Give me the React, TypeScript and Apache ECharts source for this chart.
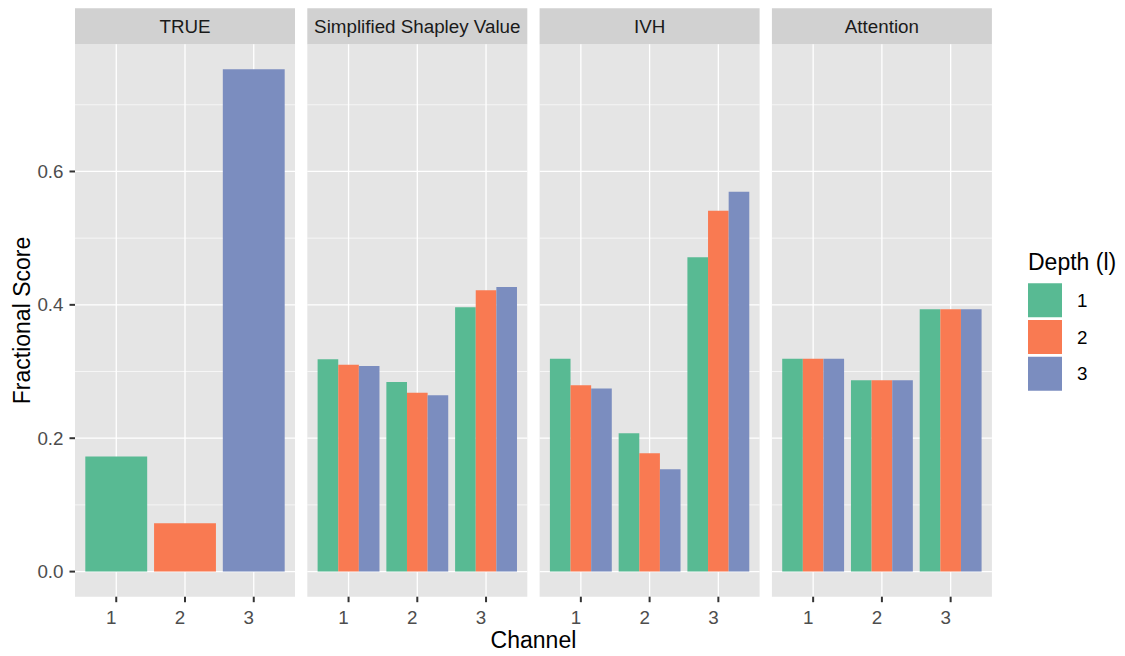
import React, { useEffect, useRef } from "react";
import * as echarts from "echarts";

// ---- data ----
const panels = ["TRUE", "Simplified Shapley Value", "IVH", "Attention"];
const channels = [1, 2, 3];
const depths = ["1", "2", "3"];
// TRUE panel: one bar per channel (depth == channel)
const trueScores = [0.1724, 0.0726, 0.7532];
// Simplified Shapley Value, per depth, channels 1..3
const shapleyD1 = [0.3184, 0.2844, 0.3964];
const shapleyD2 = [0.31, 0.268, 0.4219];
const shapleyD3 = [0.3084, 0.2645, 0.4268];
// IVH
const ivhD1 = [0.319, 0.2075, 0.4714];
const ivhD2 = [0.2795, 0.1775, 0.5412];
const ivhD3 = [0.2744, 0.1535, 0.5697];
// Attention
const attD1 = [0.319, 0.287, 0.3934];
const attD2 = [0.319, 0.287, 0.3934];
const attD3 = [0.319, 0.287, 0.3934];

const yMajor = [0, 0.2, 0.4, 0.6];
const yMinor = [0.1, 0.3, 0.5, 0.7];

// ---- styling / layout ----
const FONT = '"Liberation Sans", Arial, Helvetica, sans-serif';
const SMALL = 18.8;
const colors = ["#58BA93", "#F97A52", "#7B8DBF"];
const PANEL_LEFT = [75, 307.3, 539.6, 771.9];
const PANEL_W = 220;
const PANEL_TOP = 44.3;
const PANEL_H = 552.4;
const STRIP_TOP = 8.3;
const STRIP_H = 36;
const X_MIN = 0.4;
const X_MAX = 3.6;
const Y_MIN = -0.03766;
const Y_MAX = 0.7907;
const TICK_LEN = 5.5;
const TICK_W = 2;
const TICK_COLOR = "#333333";

export default function App() {
  const ref = useRef<HTMLDivElement>(null);

  useEffect(() => {
    if (!ref.current) return;
    const chart = echarts.init(ref.current, null, { renderer: "svg" });

    const dodgeData = [
      [shapleyD1, shapleyD2, shapleyD3],
      [ivhD1, ivhD2, ivhD3],
      [attD1, attD2, attD3],
    ];

    const grids: any[] = [];
    const xAxes: any[] = [];
    const yAxes: any[] = [];
    const series: any[] = [];
    const graphics: any[] = [];

    panels.forEach((name, i) => {
      grids.push({
        left: PANEL_LEFT[i],
        top: PANEL_TOP,
        width: PANEL_W,
        height: PANEL_H,
        show: true,
        backgroundColor: "#E5E5E5",
        borderWidth: 0,
      });
      xAxes.push({
        type: "value",
        gridIndex: i,
        position: "bottom",
        min: X_MIN,
        max: X_MAX,
        axisLine: { show: false, onZero: false },
        splitLine: { show: false },
        axisTick: { show: false },
        axisLabel: {
          show: true,
          customValues: channels,
          fontSize: SMALL,
          fontFamily: FONT,
          color: "#4D4D4D",
          margin: 11,
          padding: [0, 10, 0, 0],
        },
      });
      yAxes.push({
        type: "value",
        gridIndex: i,
        position: "left",
        min: Y_MIN,
        max: Y_MAX,
        axisLine: { show: false, onZero: false },
        splitLine: { show: false },
        axisTick: { show: false },
        axisLabel: {
          show: i === 0,
          customValues: yMajor,
          fontSize: SMALL,
          fontFamily: FONT,
          color: "#4D4D4D",
          margin: 11.5,
          formatter: (v: number) => v.toFixed(1),
        },
      });

      const hLine = (width: number) => (params: any, api: any) => {
        const v = api.value(0);
        const p0 = api.coord([X_MIN, v]);
        const p1 = api.coord([X_MAX, v]);
        return {
          type: "line",
          shape: { x1: p0[0], y1: p0[1], x2: p1[0], y2: p1[1] },
          style: { stroke: "#FFFFFF", lineWidth: width },
        };
      };
      const vLine = (params: any, api: any) => {
        const v = api.value(0);
        const p0 = api.coord([v, Y_MIN]);
        const p1 = api.coord([v, Y_MAX]);
        return {
          type: "line",
          shape: { x1: p0[0], y1: p0[1], x2: p1[0], y2: p1[1] },
          style: { stroke: "#FFFFFF", lineWidth: 1.3 },
        };
      };
      series.push({
        type: "custom",
        xAxisIndex: i,
        yAxisIndex: i,
        z: 1,
        silent: true,
        data: yMinor.map((v) => [v]),
        encode: { x: [], y: 0 },
        renderItem: hLine(0.65),
      });
      series.push({
        type: "custom",
        xAxisIndex: i,
        yAxisIndex: i,
        z: 1,
        silent: true,
        data: yMajor.map((v) => [v]),
        encode: { x: [], y: 0 },
        renderItem: hLine(1.3),
      });
      series.push({
        type: "custom",
        xAxisIndex: i,
        yAxisIndex: i,
        z: 1,
        silent: true,
        data: channels.map((v) => [v]),
        encode: { x: 0, y: [] },
        renderItem: vLine,
      });

      depths.forEach((dName, d) => {
        let data: number[][];
        let fullWidth = false;
        if (i === 0) {
          data = [[channels[d], trueScores[d]]];
          fullWidth = true;
        } else {
          const vals = dodgeData[i - 1][d];
          data = channels.map((c, k) => [c, vals[k]]);
        }
        series.push({
          type: "custom",
          name: dName,
          xAxisIndex: i,
          yAxisIndex: i,
          z: 2,
          itemStyle: { color: colors[d] },
          data,
          encode: { x: 0, y: 1 },
          renderItem: (params: any, api: any) => {
            const ch = api.value(0);
            const v = api.value(1);
            const left = fullWidth ? ch - 0.45 : ch - 0.45 + d * 0.3;
            const right = fullWidth ? ch + 0.45 : left + 0.3;
            const p0 = api.coord([left, v]);
            const p1 = api.coord([right, 0]);
            return {
              type: "rect",
              shape: {
                x: p0[0],
                y: p0[1],
                width: p1[0] - p0[0],
                height: p1[1] - p0[1],
              },
              style: { fill: colors[d] },
            };
          },
        });
      });

      graphics.push({
        type: "rect",
        left: PANEL_LEFT[i],
        top: STRIP_TOP,
        shape: { width: PANEL_W, height: STRIP_H },
        style: { fill: "#D1D1D1" },
        z: 0,
      });
      graphics.push({
        type: "text",
        x: PANEL_LEFT[i] + PANEL_W / 2,
        y: STRIP_TOP + STRIP_H / 2 + 0.5,
        style: {
          text: name,
          fontSize: SMALL,
          fontFamily: FONT,
          fill: "#1A1A1A",
          align: "center",
          verticalAlign: "middle",
        },
        z: 1,
      });
    });

    graphics.push({
      type: "text",
      x: (PANEL_LEFT[0] + PANEL_LEFT[3] + PANEL_W) / 2,
      y: 640,
      style: {
        text: "Channel",
        fontSize: 23,
        fontFamily: FONT,
        fill: "#000000",
        align: "center",
        verticalAlign: "middle",
      },
    });
    graphics.push({
      type: "text",
      x: 21.7,
      y: PANEL_TOP + PANEL_H / 2,
      rotation: Math.PI / 2,
      style: {
        text: "Fractional Score",
        fontSize: 23,
        fontFamily: FONT,
        fill: "#000000",
        align: "center",
        verticalAlign: "middle",
      },
    });
    graphics.push({
      type: "text",
      x: 1028,
      y: 262,
      style: {
        text: "Depth (l)",
        fontSize: 23,
        fontFamily: FONT,
        fill: "#000000",
        align: "left",
        verticalAlign: "middle",
      },
    });

    chart.setOption({
      animation: false,
      backgroundColor: "#FFFFFF",
      grid: grids,
      xAxis: xAxes,
      yAxis: yAxes,
      series,
      graphic: graphics,
      legend: {
        data: depths,
        orient: "vertical",
        left: 1028,
        top: 283.3,
        padding: 0,
        itemWidth: 34,
        itemHeight: 34,
        itemGap: 2.7,
        icon: "rect",
        selectedMode: false,
        textStyle: {
          fontSize: SMALL,
          fontFamily: FONT,
          color: "#000000",
          padding: [0, 0, 0, 10],
        },
      },
    });

    // axis ticks, positioned through the axes' own scales
    const ticks: any[] = [];
    panels.forEach((_, i) => {
      channels.forEach((c) => {
        const p = chart.convertToPixel({ gridIndex: i }, [c, Y_MIN]) as number[];
        if (!p) return;
        ticks.push({
          type: "rect",
          shape: { x: p[0] - TICK_W / 2, y: p[1], width: TICK_W, height: TICK_LEN },
          style: { fill: TICK_COLOR },
          z: 10,
        });
      });
    });
    yMajor.forEach((v) => {
      const p = chart.convertToPixel({ gridIndex: 0 }, [X_MIN, v]) as number[];
      if (!p) return;
      ticks.push({
        type: "rect",
        shape: { x: p[0] - TICK_LEN, y: p[1] - TICK_W / 2, width: TICK_LEN, height: TICK_W },
        style: { fill: TICK_COLOR },
        z: 10,
      });
    });
    chart.setOption({ graphic: graphics.concat(ticks) });

    return () => chart.dispose();
  }, []);

  return (
    <div
      ref={ref}
      style={{ position: "absolute", left: 0, top: 0, width: 1125, height: 656 }}
    />
  );
}
